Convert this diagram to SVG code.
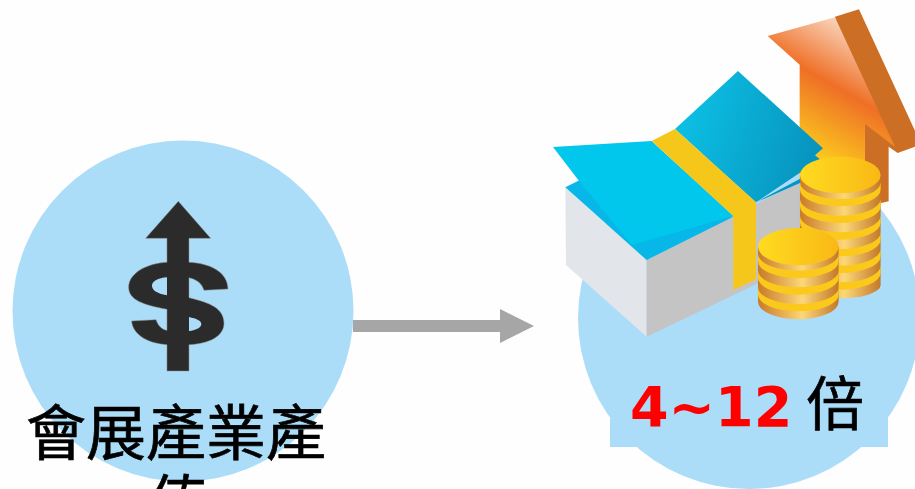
<svg xmlns="http://www.w3.org/2000/svg" width="915" height="489" viewBox="0 0 915 489">
<style>
.disc{fill:#abddf8}
.cjk{font-family:"Noto Sans CJK TC","DejaVu Sans",sans-serif;fill:#000;stroke:#000;stroke-width:.7}
.num{font-family:"DejaVu Sans",sans-serif;font-weight:700;fill:#f00;font-size:55.5px}
.rim{fill:url(#rim)}
.top{fill:url(#coinTop)}
.band{fill:#fbc91c}
</style>
<defs>
<linearGradient id="arrowG" gradientUnits="userSpaceOnUse" x1="960" y1="70" x2="760" y2="420">
<stop offset="0" stop-color="#fbe0cd"/><stop offset="0.5" stop-color="#ef6f26"/><stop offset="1" stop-color="#fbc61e"/>
</linearGradient>
<linearGradient id="blueG" gradientUnits="userSpaceOnUse" x1="430" y1="330" x2="840" y2="460">
<stop offset="0" stop-color="#0cbfe4"/><stop offset="1" stop-color="#0793bd"/>
</linearGradient>
<linearGradient id="rim"><stop offset="0" stop-color="#c97a28"/><stop offset="0.55" stop-color="#fcd778"/><stop offset="1" stop-color="#c4782a"/></linearGradient>
<linearGradient id="coinTop"><stop offset="0" stop-color="#fedb20"/><stop offset="1" stop-color="#f9b815"/></linearGradient>
<path id="coinBand" class="band" d="M0 0A121 50 0 0 0 242 0V22A121 50 0 0 1 0 22Z"/>
</defs>
<rect width="915" height="489" fill="#fefefe"/>
<g id="node-left">
<circle class="disc" cx="183" cy="311" r="170.5"/>
<g transform="translate(0 190) scale(.3333)" fill="#2b2b2b" stroke="#8c8c8c" stroke-width="1.5">
<path d="M535 34 632 145H567V217C630 220 682 245 684 297L612 301C606 280 590 268 567 263V323C630 338 672 355 672 400C672 440 625 462 567 464V543H501V464C440 460 398 432 395 393L468 389C475 408 485 418 501 421V358C430 345 386 330 386 292C386 250 440 220 501 217V145H437Z"/>
<path fill="#abddf8" stroke="none" d="M501 262V316C470 310 456 300 456 287C456 274 474 264 501 262ZM567 381V423C590 421 604 412 604 402C604 392 590 386 567 381Z"/>
</g>
<text class="cjk" x="26" y="455" font-size="60">會展產業產</text>
<text class="cjk" x="148" y="525" font-size="60">值</text>
</g>
<g id="connectors">
<path fill="#a6a6a6" d="M353 320H500V309L534 326 500 343V332H353Z"/>
</g>
<g id="node-right">
<circle class="disc" cx="749" cy="318" r="171"/>
<rect class="disc" x="610" y="418" width="278" height="29"/>
<g transform="translate(540 0) scale(.3333)">
<path fill="#cc6e24" d="M885 50 957 28 1125 392V440L1073 459 1046 440V604L975 620V375Z"/>
<path fill="url(#arrowG)" d="M683 108 885 52 1065 440 975 372V620H779V194Z"/>
<path fill="#e2e5ea" d="M76 562 320 780V1010L78 795Z"/>
<path fill="#c4c4c4" d="M320 780 800 535V780L320 1010Z"/>
<path fill="#06b7e8" d="M76 562 120 540 580 650 320 780Z"/>
<path fill="#0295c6" d="M648 607 830 510 800 540Z"/>
<path fill="url(#blueG)" d="M405 387 594 213 849 445 825 466 840 478 648 607Z"/>
<path fill="#01c7ec" d="M39 441 335 423 580 648 275 735 115 540Z"/>
<path fill="#f5c71a" d="M335 423 405 387 648 607V838L580 870V648Z"/>
<g transform="translate(780 525)">
<path class="rim" d="M0 0V330A121 40 0 0 0 242 330V0Z"/>
<use href="#coinBand" y="22"/><use href="#coinBand" y="72"/><use href="#coinBand" y="122"/><use href="#coinBand" y="172"/><use href="#coinBand" y="222"/><use href="#coinBand" y="272"/>
<ellipse class="top" cx="121" cy="0" rx="121" ry="55"/>
</g>
<g transform="translate(654 740)">
<path class="rim" d="M0 0V165A121 53 0 0 0 242 165V0Z"/>
<use href="#coinBand" y="22"/><use href="#coinBand" y="72"/><use href="#coinBand" y="122"/>
<ellipse class="top" cx="121" cy="0" rx="121" ry="56"/>
</g>
</g>
<text x="630" y="426" class="num">4~12</text>
<text x="806" y="425" class="cjk" font-size="58">倍</text>
</g>
</svg>
